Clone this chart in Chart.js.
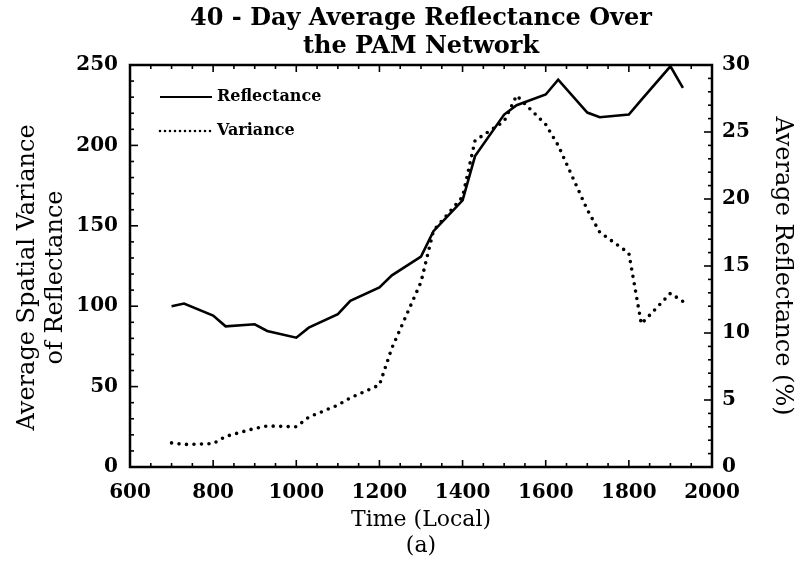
<!DOCTYPE html>
<html>
<head>
<meta charset="utf-8">
<script src="https://cdn.jsdelivr.net/npm/chart.js@4.4.1/dist/chart.umd.min.js"></script>
<style>
    html, body { margin: 0; padding: 0; background: #fff; }
    #wrap { width: 800px; height: 569px; }
</style>
</head>
<body>
<div id="wrap"><canvas id="chart" width="800" height="569"></canvas></div>
<script>
// Local time (HHMM) of each 40-day average
const times = [700, 730, 800, 830, 900, 930, 1000, 1030, 1100, 1130, 1200, 1230, 1300,
    1330, 1400, 1430, 1500, 1530, 1600, 1630, 1700, 1730, 1800, 1830, 1900, 1930];
// Average reflectance (%), right axis
const reflectance = [12.0, 12.2, 11.3, 10.5, 10.65, 10.15, 9.65, 10.4, 11.4, 12.4, 13.4, 14.3, 15.7,
    17.6, 19.9, 23.2, 26.3, 27.0, 27.8, 28.9, 26.45, 26.1, 26.3, 27.4, 29.9, 28.3];
// Average spatial variance of reflectance, left axis
const variance = [15, 14, 14.5, 19, 24, 25.5, 25, 31, 38.5, 43, 51, 74, 115,
    147, 168, 203, 215, 231, 213, 200, 160, 146, 133, 89, 108, 103];

const xTicks = [600, 800, 1000, 1200, 1400, 1600, 1800, 2000];
const leftTicks = [0, 50, 100, 150, 200, 250];
const rightTicks = [0, 5, 10, 15, 20, 25, 30];

const serif = 'DejaVu Serif';

// Inward major/minor tick marks on all four sides plus the frame
const frameTicks = {
    id: 'frameTicks',
    afterDraw(chart) {
        const { ctx, chartArea: a, scales } = chart;
        ctx.save();
        ctx.strokeStyle = '#000';
        ctx.lineCap = 'butt';

        const seg = (x0, y0, x1, y1) => {
            ctx.beginPath();
            ctx.moveTo(x0, y0);
            ctx.lineTo(x1, y1);
            ctx.stroke();
        };

        ctx.lineWidth = 1.6;
        const sx = scales.x;
        for (let v = sx.min; v <= sx.max; v += 50) {
            const px = sx.getPixelForValue(v);
            const len = xTicks.includes(v) ? 7 : 4;
            seg(px, a.bottom, px, a.bottom - len);
            seg(px, a.top, px, a.top + len);
        }
        const sl = scales.y;
        for (let v = sl.min; v <= sl.max; v += 10) {
            const py = sl.getPixelForValue(v);
            const len = leftTicks.includes(v) ? 8 : 4;
            seg(a.left, py, a.left + len, py);
        }
        const sr = scales.y1;
        for (let v = sr.min; v <= sr.max; v += 1) {
            const py = sr.getPixelForValue(v);
            const len = rightTicks.includes(v) ? 8 : 4;
            seg(a.right, py, a.right - len, py);
        }

        ctx.lineWidth = 2.5;
        ctx.strokeRect(a.left, a.top, a.right - a.left, a.bottom - a.top);
        ctx.restore();
    }
};

// Legend drawn inside the plot, top-left
const insideLegend = {
    id: 'insideLegend',
    afterDraw(chart) {
        const { ctx, chartArea: a } = chart;
        ctx.save();
        chart.data.datasets.forEach((ds, i) => {
            const y = a.top + 32 + i * 34;
            const x0 = a.left + 30;
            const x1 = a.left + 82;
            ctx.strokeStyle = '#000';
            ctx.lineWidth = ds.borderDash ? 2.6 : 2.2;
            ctx.lineCap = ds.borderDash ? 'round' : 'butt';
            ctx.setLineDash(ds.borderDash ? [0, 5] : []);
            ctx.beginPath();
            ctx.moveTo(x0, y);
            ctx.lineTo(x1, y);
            ctx.stroke();
            ctx.fillStyle = '#000';
            ctx.font = 'bold 16px "' + serif + '"';
            ctx.textBaseline = 'middle';
            ctx.fillText(ds.label, x1 + 5, y);
        });
        ctx.restore();
    }
};

const plainNumber = (v) => String(v);

const ctx = document.getElementById('chart');

new Chart(ctx, {
    type: 'line',
    data: {
        datasets: [
            {
                label: 'Reflectance',
                data: times.map((t, i) => ({ x: t, y: reflectance[i] })),
                yAxisID: 'y1',
                borderColor: '#000',
                borderWidth: 2.6,
                pointRadius: 0,
                tension: 0,
                clip: false
            },
            {
                label: 'Variance',
                data: times.map((t, i) => ({ x: t, y: variance[i] })),
                yAxisID: 'y',
                borderColor: '#000',
                borderWidth: 3.6,
                borderDash: [0, 7.5],
                borderCapStyle: 'round',
                pointRadius: 0,
                tension: 0
            }
        ]
    },
    options: {
        responsive: false,
        animation: false,
        layout: { padding: 0 },
        plugins: {
            legend: { display: false },
            tooltip: { enabled: false },
            title: {
                display: true,
                fullSize: false,
                text: ['40 - Day Average Reflectance Over', 'the PAM Network'],
                color: '#000',
                font: { family: serif, size: 24, weight: 'bold', lineHeight: 1.2 },
                padding: { top: 4, bottom: 3.4 }
            }
        },
        scales: {
            x: {
                type: 'linear',
                min: 600,
                max: 2000,
                afterBuildTicks: (s) => { s.ticks = xTicks.map(v => ({ value: v })); },
                afterFit: (s) => { s.height = 102; },
                grid: { display: false, drawTicks: false },
                border: { display: false },
                ticks: {
                    color: '#000',
                    padding: 14,
                    maxRotation: 0,
                    callback: plainNumber,
                    font: { family: serif, size: 20, weight: 'bold' }
                },
                title: {
                    display: true,
                    text: ['Time (Local)', '(a)'],
                    color: '#000',
                    font: { family: serif, size: 22, lineHeight: 1.2 },
                    padding: { top: 0, bottom: 9.4 }
                }
            },
            y: {
                position: 'left',
                min: 0,
                max: 250,
                afterBuildTicks: (s) => { s.ticks = leftTicks.map(v => ({ value: v })); },
                afterFit: (s) => { s.width = 130; },
                grid: { display: false, drawTicks: false },
                border: { display: false },
                ticks: {
                    color: '#000',
                    padding: 12,
                    callback: plainNumber,
                    font: { family: serif, size: 20, weight: 'bold' }
                },
                title: {
                    display: true,
                    // trailing spaces nudge the centred text slightly downward
                    text: ['Average Spatial Variance   ', 'of Reflectance   '],
                    color: '#000',
                    font: { family: serif, size: 24, lineHeight: 1.15 },
                    padding: { top: 14, bottom: 0 }
                }
            },
            y1: {
                position: 'right',
                min: 0,
                max: 30,
                afterBuildTicks: (s) => { s.ticks = rightTicks.map(v => ({ value: v })); },
                afterFit: (s) => { s.width = 88; },
                grid: { display: false, drawTicks: false },
                border: { display: false },
                ticks: {
                    color: '#000',
                    padding: 10,
                    callback: plainNumber,
                    font: { family: serif, size: 20, weight: 'bold' }
                },
                title: {
                    display: true,
                    text: 'Average Reflectance (%)',
                    color: '#000',
                    font: { family: serif, size: 24, lineHeight: 1.2 },
                    padding: { top: 3.6, bottom: 0 }
                }
            }
        }
    },
    plugins: [frameTicks, insideLegend]
});
</script>
</body>
</html>
